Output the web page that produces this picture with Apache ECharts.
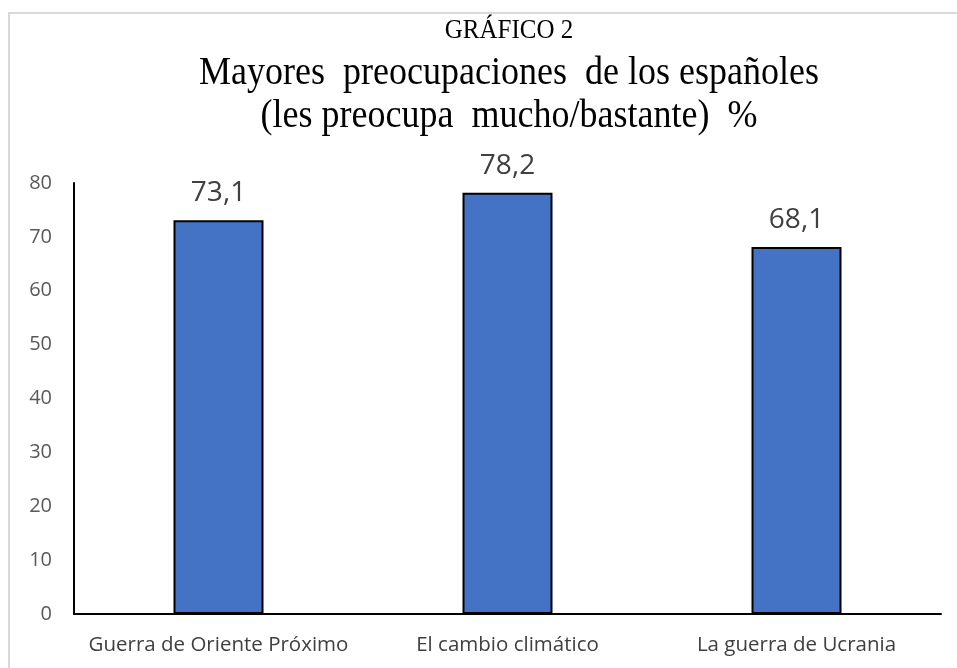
<!DOCTYPE html>
<html><head><meta charset="utf-8">
<script src="https://cdn.jsdelivr.net/npm/echarts@6/dist/echarts.min.js"></script>
<style>html,body{margin:0;padding:0;background:#fff}#c{width:957px;height:668px}</style>
</head><body><div id="c"></div>
<script>
const categories = ['Guerra de Oriente Próximo', 'El cambio climático', 'La guerra de Ucrania'];
const values = [73.1, 78.2, 68.1];
const yTicks = [0, 10, 20, 30, 40, 50, 60, 70, 80];

const chart = echarts.init(document.getElementById('c'));
chart.setOption({
  animation: false,
  backgroundColor: '#fff',
  graphic: [{
    type: 'rect', left: 8, top: 12, z: -1,
    shape: { width: 960, height: 670 },
    style: { fill: '#fff', stroke: '#d9d9d9', lineWidth: 2 }
  }, {
    type: 'text', x: 509, y: 31, scaleY: 1.1, style: { text: 'GRÁFICO 2', font: '25px "Liberation Serif"', fill: '#000', textAlign: 'center', textVerticalAlign: 'middle' }
  }, {
    type: 'text', x: 509, y: 73, scaleY: 1.12, style: { text: 'Mayores  preocupaciones  de los españoles', font: '36px "Liberation Serif"', fill: '#000', textAlign: 'center', textVerticalAlign: 'middle' }
  }, {
    type: 'text', x: 509, y: 116, scaleY: 1.12, style: { text: '(les preocupa  mucho/bastante)  %', font: '36px "Liberation Serif"', fill: '#000', textAlign: 'center', textVerticalAlign: 'middle' }
  }],
  grid: { left: 74, right: 16, top: 183, bottom: 54, containLabel: false },
  xAxis: {
    type: 'category', data: categories,
    axisLine: { show: true, lineStyle: { color: '#000', width: 2 } },
    axisTick: { show: false },
    axisLabel: { interval: 0, color: '#404040', fontSize: 20.5, fontFamily: 'Open Sans', margin: 21 }
  },
  yAxis: {
    type: 'value', min: yTicks[0], max: yTicks[yTicks.length - 1], interval: 10,
    axisLine: { show: true, lineStyle: { color: '#000', width: 2 } },
    axisTick: { show: false },
    splitLine: { show: false },
    axisLabel: { color: '#595959', fontSize: 20, fontFamily: 'Open Sans', margin: 22 }
  },
  series: [{
    type: 'bar', data: values, barWidth: 90,
    itemStyle: { color: '#4472C4', borderColor: '#000', borderWidth: 2 },
    label: {
      show: true, position: 'top', distance: 13, color: '#404040', fontSize: 28, fontFamily: 'Open Sans',
      formatter: p => String(p.value).replace('.', ',')
    }
  }]
});
</script></body></html>
